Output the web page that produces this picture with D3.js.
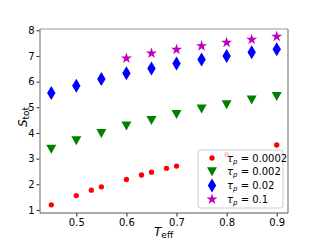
<!DOCTYPE html>
<html lang="en">
<head>
<meta charset="UTF-8">
<title>S_tot vs T_eff</title>
<script src="https://cdn.jsdelivr.net/npm/d3@7"></script>
<style>
  body { margin: 0; background: #fff; }
  svg { display: block; font-family: "DejaVu Sans", sans-serif; }
</style>
</head>
<body>
<svg id="chart" width="320" height="240"></svg>
<script>
// data
var tempRed = [0.45, 0.5, 0.53, 0.55, 0.6, 0.63, 0.65, 0.68, 0.7, 0.8, 0.9];
var stotRed = [1.2, 1.56, 1.77, 1.9, 2.19, 2.36, 2.47, 2.62, 2.71, 3.15, 3.53];

var tempGreen = [0.45, 0.5, 0.55, 0.6, 0.65, 0.7, 0.75, 0.8, 0.85, 0.9];
var stotGreen = [3.36, 3.7, 3.98, 4.27, 4.48, 4.72, 4.93, 5.1, 5.28, 5.42];

var tempBlue = [0.45, 0.5, 0.55, 0.6, 0.65, 0.7, 0.75, 0.8, 0.85, 0.9];
var stotBlue = [5.56, 5.84, 6.1, 6.33, 6.51, 6.71, 6.86, 7.0, 7.14, 7.26];

var tempPurple = [0.6, 0.65, 0.7, 0.75, 0.8, 0.85, 0.9];
var stotPurple = [6.91, 7.1, 7.25, 7.39, 7.52, 7.64, 7.76];

var xTicks = [0.5, 0.6, 0.7, 0.8, 0.9];
var yTicks = [1, 2, 3, 4, 5, 6, 7, 8];
var legendLabels = ["0.0002", "0.002", "0.02", "0.1"];

var svg = d3.select("#chart");
var pLeft = 40, pRight = 288, pTop = 29, pBottom = 213;

var x = d3.scaleLinear().domain([0.4275, 0.9225]).range([pLeft, pRight]);
var y = d3.scaleLinear().domain([0.88, 8.05]).range([pBottom, pTop]);

// symbols
var circle = d3.symbol().type(d3.symbolCircle).size(22);
var star = d3.symbol().type(d3.symbolStar).size(38);
function triDown() { return "M0,4.5L-5,-4.5L5,-4.5Z"; }
function diamond() { return "M0,-7L4.2,0L0,7L-4.2,0Z"; }

var series = [
  { xs: tempRed, ys: stotRed, color: "#ff0000", path: circle() },
  { xs: tempGreen, ys: stotGreen, color: "#008000", path: triDown() },
  { xs: tempBlue, ys: stotBlue, color: "#0000ff", path: diamond() },
  { xs: tempPurple, ys: stotPurple, color: "#bf00bf", path: star() }
];

// axes
var xAxis = svg.append("g")
  .attr("transform", "translate(0," + pBottom + ")")
  .call(d3.axisBottom(x).tickValues(xTicks).tickSize(3.5).tickPadding(2).tickFormat(d3.format(".1f")));
var yAxis = svg.append("g")
  .attr("transform", "translate(" + pLeft + ",0)")
  .call(d3.axisLeft(y).tickValues(yTicks).tickSize(3.5).tickPadding(2).tickFormat(d3.format("d")));

[xAxis, yAxis].forEach(function(a) {
  a.select(".domain").remove();
  a.selectAll("text").attr("font-size", 10).attr("fill", "#000")
    .attr("font-family", "DejaVu Sans, sans-serif");
  a.selectAll("line").attr("stroke", "#222");
});

// frame
svg.append("line").attr("x1", pLeft).attr("x2", pRight).attr("y1", pTop).attr("y2", pTop)
  .attr("stroke", "#999").attr("stroke-width", 1);
svg.append("line").attr("x1", pRight).attr("x2", pRight).attr("y1", pTop).attr("y2", pBottom)
  .attr("stroke", "#999").attr("stroke-width", 1.5);
svg.append("line").attr("x1", pLeft).attr("x2", pLeft).attr("y1", pTop).attr("y2", pBottom)
  .attr("stroke", "#999").attr("stroke-width", 1.5);
svg.append("line").attr("x1", pLeft).attr("x2", pRight).attr("y1", pBottom).attr("y2", pBottom)
  .attr("stroke", "#555").attr("stroke-width", 1);

// points
series.forEach(function(s) {
  svg.append("g").selectAll("path")
    .data(s.xs)
    .enter().append("path")
    .attr("d", s.path)
    .attr("fill", s.color)
    .attr("transform", function(d, i) { return "translate(" + x(d) + "," + y(s.ys[i]) + ")"; });
});

// legend
var lg = svg.append("g").attr("transform", "translate(198,150)");
lg.append("rect").attr("width", 85).attr("height", 58).attr("rx", 2.5)
  .attr("fill", "#fff").attr("fill-opacity", 0.8)
  .attr("stroke", "#ccc").attr("stroke-width", 1);
series.forEach(function(s, i) {
  var row = lg.append("g").attr("transform", "translate(0," + (8 + i * 13.8) + ")");
  row.append("path").attr("d", s.path).attr("fill", s.color)
    .attr("transform", "translate(14,0)");
  var t = row.append("text").attr("x", 29).attr("y", 3.5).attr("font-size", 10);
  t.append("tspan").attr("font-style", "italic").text("τ");
  t.append("tspan").attr("font-style", "italic").attr("font-size", 7).attr("dy", 2).text("p");
  t.append("tspan").attr("dy", -2).text(" = " + legendLabels[i]);
});

// axis titles
var xl = svg.append("text").attr("x", 154).attr("y", 236).attr("font-size", 12);
xl.append("tspan").attr("font-style", "italic").text("T");
xl.append("tspan").attr("font-size", 9).attr("dy", 2).text("eff");

var yl = svg.append("text").attr("transform", "translate(27,117) rotate(-90)")
  .attr("text-anchor", "middle").attr("font-size", 12);
yl.append("tspan").attr("font-style", "italic").text("S");
yl.append("tspan").attr("font-size", 9).attr("dy", 2).text("tot");
</script>
</body>
</html>
